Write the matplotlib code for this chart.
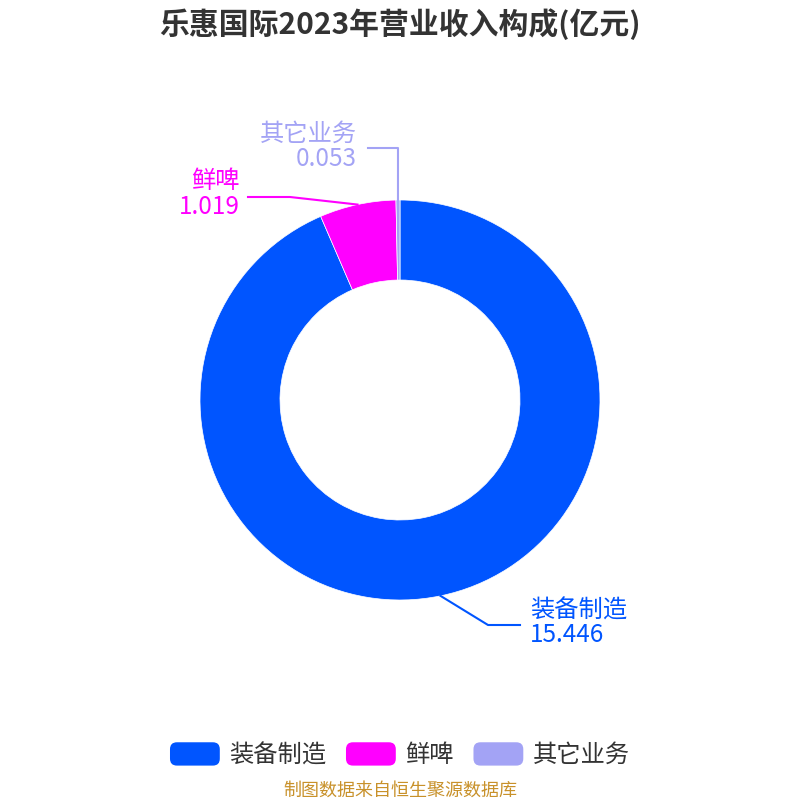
import numpy as np
import matplotlib.pyplot as plt
from matplotlib.patches import FancyBboxPatch
from matplotlib.legend_handler import HandlerPatch

plt.rcParams['font.family'] = ['Noto Sans CJK SC', 'DejaVu Sans']

# 数据
labels = ['装备制造', '鲜啤', '其它业务']
values = [15.446, 1.019, 0.053]
colors = ['#0055FF', '#FF00FF', '#A3A3F5']

# 标注位置 (折线拐点, 终点, 文字位置, 对齐)
label_pos = [
    dict(elbow=(0.44, -1.125), end=(0.6, -1.125), text=(0.65, -1.115), ha='left'),
    dict(elbow=(-0.55, 1.015), end=(-0.76, 1.015), text=(-0.8, 1.03), ha='right'),
    dict(elbow=(-0.01, 1.26), end=(-0.16, 1.26), text=(-0.215, 1.27), ha='right'),
]


class RoundHandler(HandlerPatch):
    def create_artists(self, legend, orig_handle, xdescent, ydescent,
                       width, height, fontsize, trans):
        p = FancyBboxPatch((-xdescent, -ydescent), width, height,
                           boxstyle='round,pad=0,rounding_size=5',
                           facecolor=orig_handle.get_facecolor(),
                           edgecolor='none', transform=trans)
        return [p]


fig = plt.figure(figsize=(8, 8), dpi=100)
ax = fig.add_axes([0, 0, 1, 1])

wedges, _ = ax.pie(values, colors=colors, startangle=90, counterclock=False,
                   radius=1.0, wedgeprops=dict(width=0.4, edgecolor='white', linewidth=0.5))
ax.set_xlim(-2, 2)
ax.set_ylim(-2, 2)
ax.set_aspect('equal')
ax.axis('off')

total = sum(values)
cum = 0
for w, lab, v, c, pos in zip(wedges, labels, values, colors, label_pos):
    mid = (cum + v / 2) / total
    cum += v
    ang = np.deg2rad(90 - mid * 360)
    x0, y0 = np.cos(ang), np.sin(ang)
    ax.plot([x0, pos['elbow'][0], pos['end'][0]],
            [y0, pos['elbow'][1], pos['end'][1]], color=c, lw=1.5)
    ax.text(pos['text'][0], pos['text'][1], f'{lab}\n{v:.3f}', color=c,
            fontsize=17.5, ha=pos['ha'], va='center', linespacing=0.95)

fig.text(0.5, 0.97, '乐惠国际2023年营业收入构成(亿元)', ha='center', va='center',
         fontsize=21.5, fontweight='bold', color='#333333')

leg = fig.legend(wedges, labels, loc='center', bbox_to_anchor=(0.5, 0.056),
                 ncol=3, frameon=False, fontsize=17.5, handlelength=2.05,
                 handleheight=1.1, columnspacing=0.8, handletextpad=0.4,
                 handler_map={w: RoundHandler() for w in wedges})
for t in leg.get_texts():
    t.set_color('#333333')

fig.text(0.5, 0.012, '制图数据来自恒生聚源数据库', ha='center', va='center',
         fontsize=13, color='#C8912A')

fig.savefig('out.png', dpi=100)
